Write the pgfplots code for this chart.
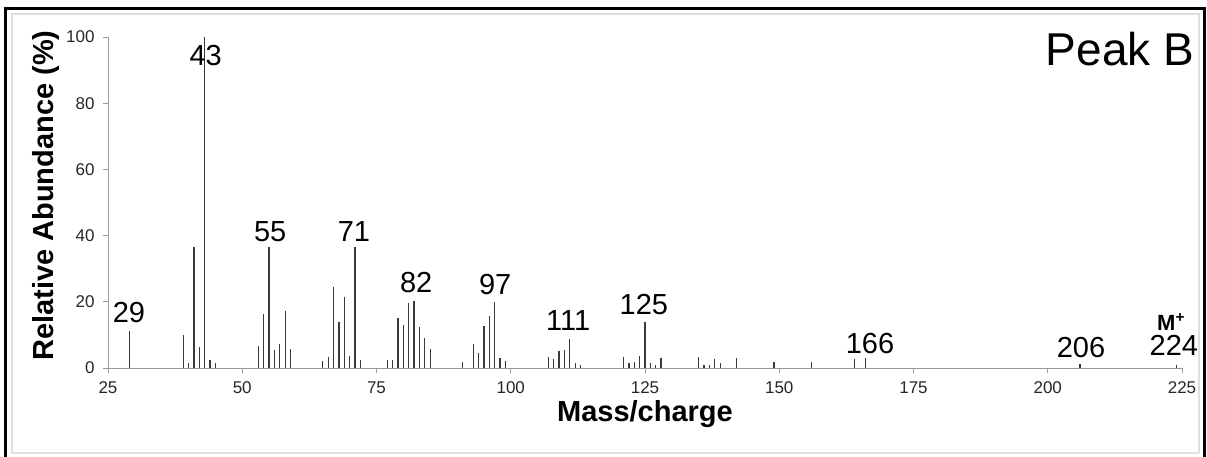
\documentclass[border=0pt]{standalone}
\usepackage{fontspec}
\setmainfont{Liberation Sans}
\usepackage{pgfplots}
\pgfplotsset{compat=1.18}
\definecolor{stick}{HTML}{3A3A3A}
\definecolor{axgray}{HTML}{9A9A9A}
\newcommand{\fs}[1]{\fontsize{#1}{#1}\selectfont}
\begin{document}
\begin{tikzpicture}[x=1pt,y=1pt]
\useasboundingbox (0,0) rectangle (1207,457);
% frames round the chart
\draw[gray!25, line width=1.5pt] (12,4) rectangle (1199,443);
\draw[black, line width=3pt] (5.5,0) -- (5.5,448.5) -- (1204.5,448.5) -- (1204.5,0);
\begin{axis}[
  at={(108pt,89pt)}, anchor=south west,
  scale only axis, width=1074pt, height=331pt,
  xmin=25, xmax=225, ymin=0, ymax=100,
  axis x line=bottom, axis y line=left,
  axis line style={axgray, -, line width=0.8pt},
  xtick={25,50,...,225}, ytick={0,20,...,100},
  tick align=outside, major tick length=5pt,
  tick style={axgray, line width=0.8pt},
  tick label style={font=\fs{17}, text=black!85},
  xticklabel style={yshift=-5pt},
  yticklabel style={xshift=-5pt},
  /pgf/number format/assume math mode=true,
  xlabel={Mass/charge},
  xlabel style={font=\bfseries\fs{29}, at={(axis description cs:0.5,0)}, anchor=base, yshift=-54pt},
  ylabel={Relative Abundance (\%)},
  ylabel style={font=\bfseries\fs{29}, at={(axis description cs:0,0.5)}, anchor=base, yshift=55pt, xshift=7pt},
  clip=false,
]
\addplot[ycomb, stick, line width=1.3pt, mark=none] coordinates {
  (29,11.1) (39,9.9) (40,1.5) (41,36.5) (42,6.2) (43,100) (44,2.5) (45,1.4)
  (53,6.5) (54,16.4) (55,36.6) (56,5.5) (57,7.4) (58,17.1) (59,5.7)
  (65,2.2) (66,3.2) (67,24.5) (68,13.9) (69,21.3) (70,3.7) (71,36.7) (72,2.5)
  (77,2.5) (78,2.5) (79,15.2) (80,12.9) (81,19.6) (82,20.3) (83,12.3) (84,9.2) (85,5.8)
  (91,1.7) (93,7.2) (94,4.6) (95,12.7) (96,15.6) (97,19.9) (98,2.9) (99,2.2)
  (107,3.3) (108,2.6) (109,5.0) (110,5.5) (111,8.9) (112,1.4) (113,0.9)
  (121,3.4) (122,1.4) (123,1.8) (124,3.7) (125,13.8) (126,1.4) (127,0.9) (128,3.0)
  (135,3.4) (136,0.9) (137,0.9) (138,2.7) (139,1.4) (142,3.1) (149,1.7) (156,1.7)
  (164,2.7) (166,3.0) (206,1.3) (224,0.8)
};
% peak labels
\begin{scope}[every node/.style={font=\fs{29}, anchor=base, inner sep=0pt}]
\node at (axis cs:28.9,13.6) {29};
\node at (axis cs:43.2,91.5) {43};
\node at (axis cs:55.2,38.1) {55};
\node at (axis cs:70.8,38.1) {71};
\node at (axis cs:82.4,22.7) {82};
\node at (axis cs:97.1,22.1) {97};
\node at (axis cs:110.7,11.2) {111};
\node at (axis cs:124.8,16.3) {125};
\node at (axis cs:166.9,4.5) {166};
\node at (axis cs:206.2,3.3) {206};
\node at (axis cs:223.5,3.7) {224};
\end{scope}
\node[font=\bfseries\fs{22}, anchor=base east, inner sep=0pt] at (axis cs:225.6,11.4) {M\textsuperscript{+}};
\node[font=\fs{46}, anchor=base east, inner sep=0pt] at (axis cs:227.3,91.5) {Peak B};
\end{axis}
\end{tikzpicture}
\end{document}
